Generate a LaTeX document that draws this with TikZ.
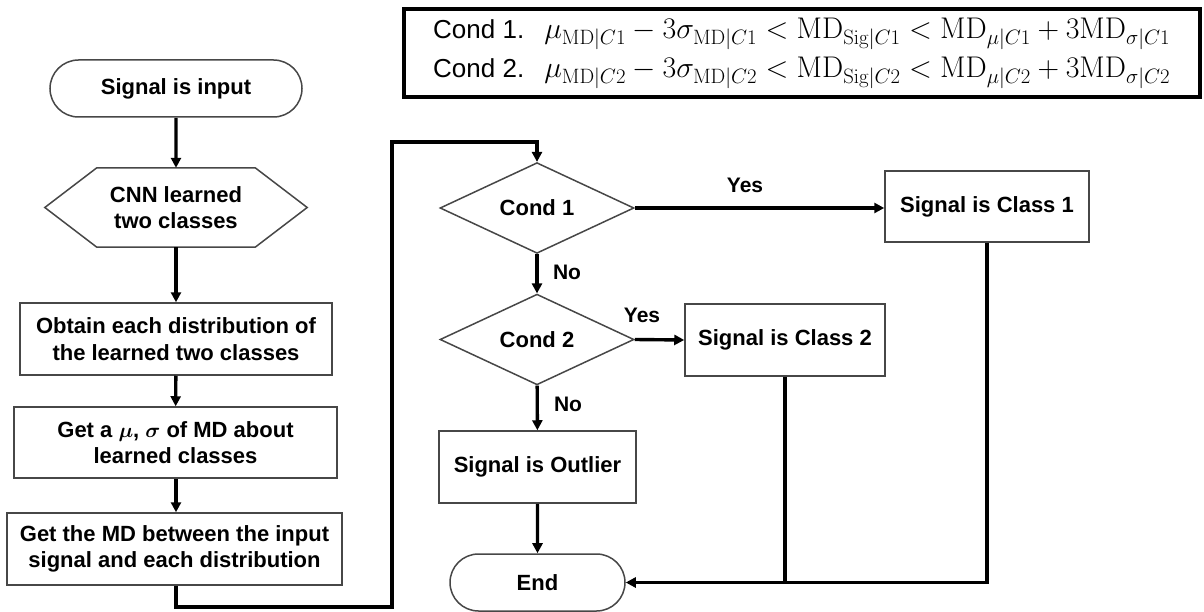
\documentclass[tikz,border=0pt]{standalone}
\usepackage[no-math]{fontspec}
\setmainfont{Liberation Sans}
\usepackage{bm}
\usepackage{graphicx}
\usetikzlibrary{arrows.meta,calc,shapes.geometric,shapes.misc}

\newcommand{\condmath}[1]{\resizebox{626pt}{!}{%
  $\mu_{\mathrm{MD}|C#1}-3\sigma_{\mathrm{MD}|C#1}<\mathrm{MD}_{\mathrm{Sig}|C#1}<\mathrm{MD}_{\mu|C#1}+3\mathrm{MD}_{\sigma|C#1}$}}

\tikzset{
  outline/.style={draw=black!72, line width=1.5pt},
  boxtext/.style={font=\bfseries\fontsize{22}{26.5}\selectfont, align=center, inner sep=0pt},
  flowbox/.style={outline, boxtext, rectangle},
  terminal/.style={outline, boxtext, rounded rectangle},
  decision/.style={outline, boxtext, diamond},
  flow/.style={line width=3.4pt, line join=miter, -{Triangle[length=10pt,width=10pt]}},
  joinline/.style={line width=3.4pt, line join=miter},
  branch/.style={font=\bfseries\fontsize{21}{25}\selectfont, inner sep=0pt},
  eqtext/.style={font=\fontsize{26}{30}\selectfont, inner sep=0pt, anchor=base west}
}

\begin{document}
\begin{tikzpicture}[x=1pt,y=-1pt]
\useasboundingbox (0,0) rectangle (1204,612);

% condition box
\draw[line width=3.4pt] (404,9) rectangle (1200,97);
\node[eqtext] (eq1) at (433,39) {Cond 1.\hspace{20pt}\condmath{1}};
\node[eqtext] (eq2) at (433,78) {Cond 2.\hspace{20pt}\condmath{2}};

% left column
\node[terminal, minimum width=252, minimum height=57] (start) at (176,88.5) {Signal is input};
\node[boxtext, minimum width=158, minimum height=79] (cnn) at (176,207.5) {CNN learned\\two classes};
\draw[outline] (cnn.north west) -- (cnn.north east) -- ($(cnn.east)+(52,0)$) -- (cnn.south east)
  -- (cnn.south west) -- ($(cnn.west)+(-52,0)$) -- cycle;
\node[flowbox, minimum width=312, minimum height=72] (dist) at (176,339) {Obtain each distribution of\\the learned two classes};
\node[flowbox, minimum width=323, minimum height=71] (musig) at (175.5,442.5) {Get a $\bm{\mu}$, $\bm{\sigma}$ of MD about\\learned classes};
\node[flowbox, minimum width=335, minimum height=72] (mdist) at (174.5,549) {Get the MD between the input\\signal and each distribution};

% right part
\node[decision, minimum width=194, minimum height=86] (c1) at (537,208) {Cond 1};
\node[decision, minimum width=194, minimum height=85] (c2) at (537,339.5) {Cond 2};
\node[flowbox, minimum width=204, minimum height=71] (cls1) at (987,206.5) {Signal is Class 1};
\node[flowbox, minimum width=200, minimum height=72] (cls2) at (785,340) {Signal is Class 2};
\node[flowbox, minimum width=197, minimum height=72] (outl) at (537.5,467) {Signal is Outlier};
\node[terminal, minimum width=175, minimum height=57] (end) at (537.5,582.5) {End};

% connectors
\draw[flow] (start) -- (cnn);
\draw[flow] (cnn) -- (dist);
\draw[flow] (dist) -- (musig);
\draw[flow] (musig.south -| dist.south) -- (mdist.north -| dist.south);
\coordinate (lo) at (392,607);
\coordinate (hi) at (392,142);
\draw[flow] (mdist.south -| dist.south) |- (lo) -- (hi) -| (c1.north);

\draw[flow] (c1.east) -- (c1.east -| cls1.west);
\draw[flow] (c1) -- (c2);
\draw[flow] (c2.east) -- (cls2.west);
\draw[flow] (c2) -- (outl);
\draw[flow] (outl) -- (end);
\draw[flow] (cls1.south) |- (end.east);
\draw[joinline] (cls2.south) -- (cls2.south |- end.east);

% branch labels
\node[branch] (yes1) at (745,185) {Yes};
\node[branch] (no1) at (567,272) {No};
\node[branch] (yes2) at (642,315) {Yes};
\node[branch] (no2) at (568,404) {No};
\end{tikzpicture}
\end{document}
